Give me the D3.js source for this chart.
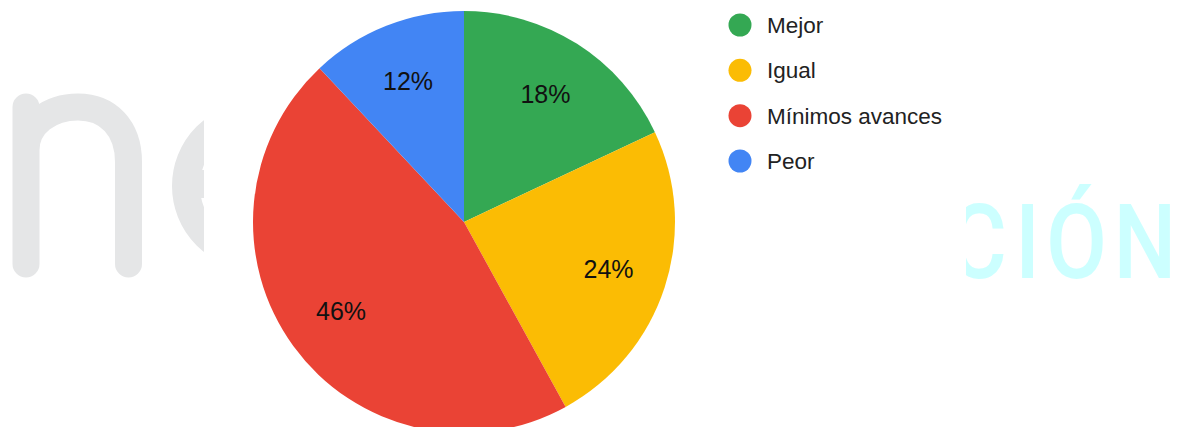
<!DOCTYPE html>
<html><head><meta charset="utf-8">
<script src="https://cdn.jsdelivr.net/npm/d3@7"></script>
<style>html,body{margin:0;padding:0;background:#fff;overflow:hidden}svg{display:block}</style>
</head><body>
<svg id="chart" width="1182" height="427"></svg>
<script>
const categories = ["Mejor", "Igual", "Mínimos avances", "Peor"];
const values = [18, 24, 46, 12];
const colors = ["#34a853", "#fbbc04", "#ea4335", "#4285f4"];
const watermarkRight = ["C", "I", "Ó", "N"];

const svg = d3.select("#chart");
const W = 1182, H = 427;

// background watermark
const wm = svg.append("g");
wm.append("path")
  .attr("d", "M26,264 V107 M26,150 C26,124 50,107 78,107 C108,107 128.5,128 128.5,162 V264")
  .attr("fill", "none").attr("stroke", "#e5e6e7").attr("stroke-width", 27)
  .attr("stroke-linecap", "round");
wm.append("circle").attr("cx", 256).attr("cy", 186).attr("r", 70)
  .attr("fill", "none").attr("stroke", "#e5e6e7").attr("stroke-width", 28);
wm.append("rect").attr("x", 190).attr("y", 170).attr("width", 140).attr("height", 28).attr("fill", "#e5e6e7");
const wmx = [978, 1027.5, 1076.5, 1145];
wm.selectAll("text.wr").data(watermarkRight).join("text")
  .attr("class", "wr")
  .attr("transform", (d, i) => `translate(${wmx[i]},278) scale(0.86,1)`)
  .attr("text-anchor", "middle")
  .attr("font-family", "Roboto, sans-serif").attr("font-size", 103).attr("font-weight", 500)
  .attr("fill", "#ccffff").text(d => d);

// chart area
svg.append("rect").attr("x", 204).attr("y", 0).attr("width", 966 - 204).attr("height", H).attr("fill", "#fff");

const cx = 464, cy = 222, r = 211;
const pie = d3.pie().sort(null).value(d => d);
const arcs = pie(values);
const arc = d3.arc().innerRadius(0).outerRadius(r);
const labelArc = d3.arc().innerRadius(152).outerRadius(152);
const total = d3.sum(values);

const g = svg.append("g").attr("transform", `translate(${cx},${cy})`);
g.selectAll("path").data(arcs).join("path")
  .attr("d", arc).attr("fill", (d, i) => colors[i]);
g.selectAll("text").data(arcs).join("text")
  .attr("transform", d => `translate(${labelArc.centroid(d)})`)
  .attr("text-anchor", "middle").attr("dy", "0.36em")
  .attr("font-family", "Arial, 'Liberation Sans', sans-serif").attr("font-size", 25)
  .attr("fill", "#111")
  .text(d => Math.round(d.value / total * 100) + "%");

// legend
const y = d3.scalePoint().domain(categories).range([25, 161]);
const lg = svg.append("g");
const item = lg.selectAll("g").data(categories).join("g")
  .attr("transform", d => `translate(740,${y(d)})`);
item.append("circle").attr("r", 11.5).attr("fill", (d, i) => colors[i]);
item.append("text").attr("x", 27).attr("dy", "0.36em")
  .attr("font-family", "Arial, 'Liberation Sans', sans-serif").attr("font-size", 22.5)
  .attr("fill", "#222").text(d => d);
</script>
</body></html>
